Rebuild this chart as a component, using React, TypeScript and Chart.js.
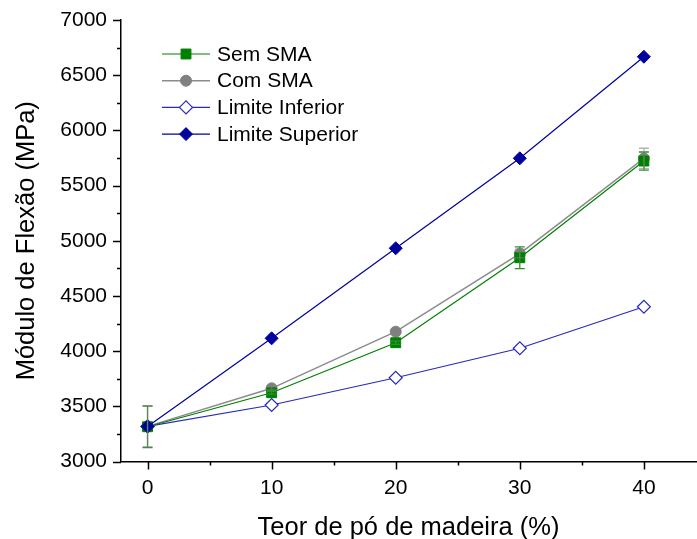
import { useEffect, useRef } from 'react';
import { Chart, registerables } from 'chart.js';
import { drawPoint } from 'chart.js/helpers';

Chart.register(...registerables);

const xValues = [0, 10, 20, 30, 40];
const semSMA = [3315, 3623, 4076, 4846, 5722];
const semSMAErr = [188, 12, 15, 98, 82];
const comSMA = [3318, 3663, 4176, 4884, 5746];
const comSMAErr = [185, 15, 15, 40, 92];
const limiteInferior = [3318, 3512, 3759, 4026, 4402];
const limiteSuperior = [3318, 4116, 4932, 5747, 6667];

const xMajorTicks = [0, 10, 20, 30, 40];
const xMinorTicks = [5, 15, 25, 35];
const yMajorTicks = [3000, 3500, 4000, 4500, 5000, 5500, 6000, 6500, 7000];
const yMinorTicks = [3250, 3750, 4250, 4750, 5250, 5750, 6250, 6750];

const FONT = "'Liberation Sans', Arial, Helvetica, sans-serif";

const toPoints = (ys: number[]) => xValues.map((x, i) => ({ x, y: ys[i] }));

const errorBarPlugin = {
  id: 'errorBars',
  afterDatasetsDraw(chart: any) {
    const { ctx } = chart;
    const xs = chart.scales.x;
    const ys = chart.scales.y;
    chart.data.datasets.forEach((ds: any) => {
      const errs = ds.errors;
      if (!errs) return;
      ctx.save();
      ctx.strokeStyle = ds.errorColor;
      ctx.lineWidth = 1.3;
      ds.data.forEach((p: any, j: number) => {
        const px = xs.getPixelForValue(p.x);
        const top = ys.getPixelForValue(p.y + errs[j]);
        const bot = ys.getPixelForValue(p.y - errs[j]);
        ctx.beginPath();
        ctx.moveTo(px, top);
        ctx.lineTo(px, bot);
        ctx.moveTo(px - 5, top);
        ctx.lineTo(px + 5, top);
        ctx.moveTo(px - 5, bot);
        ctx.lineTo(px + 5, bot);
        ctx.stroke();
      });
      ctx.restore();
    });
  },
};

const tickPlugin = {
  id: 'axisTicks',
  afterDraw(chart: any) {
    const { ctx, chartArea } = chart;
    const xs = chart.scales.x;
    const ys = chart.scales.y;
    ctx.save();
    ctx.strokeStyle = '#000';
    ctx.lineWidth = 1.5;
    ctx.beginPath();
    xMajorTicks.forEach((v) => {
      const px = Math.round(xs.getPixelForValue(v)) + 0.5;
      ctx.moveTo(px, chartArea.bottom);
      ctx.lineTo(px, chartArea.bottom + 8);
    });
    xMinorTicks.forEach((v) => {
      const px = Math.round(xs.getPixelForValue(v)) + 0.5;
      ctx.moveTo(px, chartArea.bottom);
      ctx.lineTo(px, chartArea.bottom + 4);
    });
    yMajorTicks.forEach((v) => {
      const py = Math.round(ys.getPixelForValue(v)) + 0.5;
      ctx.moveTo(chartArea.left, py);
      ctx.lineTo(chartArea.left - 8, py);
    });
    yMinorTicks.forEach((v) => {
      const py = Math.round(ys.getPixelForValue(v)) + 0.5;
      ctx.moveTo(chartArea.left, py);
      ctx.lineTo(chartArea.left - 4, py);
    });
    ctx.stroke();
    ctx.restore();
  },
};

const legendPlugin = {
  id: 'customLegend',
  afterDraw(chart: any) {
    const { ctx } = chart;
    const order = ['Sem SMA', 'Com SMA', 'Limite Inferior', 'Limite Superior'];
    const x0 = 162;
    const x1 = 210;
    const startY = 54;
    const step = 26.7;
    ctx.save();
    order.forEach((label, i) => {
      const ds = chart.data.datasets.find((d: any) => d.label === label);
      const y = startY + i * step;
      ctx.strokeStyle = ds.borderColor;
      ctx.lineWidth = ds.borderWidth;
      ctx.beginPath();
      ctx.moveTo(x0, y);
      ctx.lineTo(x1, y);
      ctx.stroke();
      ctx.fillStyle = ds.pointBackgroundColor;
      ctx.strokeStyle = ds.pointBorderColor;
      ctx.lineWidth = ds.pointBorderWidth;
      drawPoint(
        ctx,
        { pointStyle: ds.pointStyle, rotation: 0, radius: ds.pointRadius, borderWidth: ds.pointBorderWidth },
        (x0 + x1) / 2,
        y
      );
      ctx.fillStyle = '#000';
      ctx.font = `21px ${FONT}`;
      ctx.textBaseline = 'middle';
      ctx.textAlign = 'left';
      ctx.fillText(label, 217, y + 1);
    });
    ctx.restore();
  },
};

export default function App() {
  const ref = useRef<HTMLCanvasElement | null>(null);

  useEffect(() => {
    if (!ref.current) return;
    const chart = new Chart(ref.current, {
      type: 'line',
      data: {
        datasets: [
          {
            label: 'Limite Superior',
            data: toPoints(limiteSuperior),
            borderColor: '#0000a0',
            backgroundColor: '#0000a0',
            borderWidth: 1.2,
            pointStyle: 'rectRot',
            pointRadius: 6.5,
            pointBackgroundColor: '#00009c',
            pointBorderColor: '#00009c',
            pointBorderWidth: 1,
            order: 0,
          },
          {
            label: 'Sem SMA',
            data: toPoints(semSMA),
            borderColor: '#008000',
            backgroundColor: '#008000',
            borderWidth: 1.2,
            pointStyle: 'rect',
            pointRadius: 7,
            pointBackgroundColor: '#008000',
            pointBorderColor: '#008000',
            pointBorderWidth: 1,
            order: 1,
            errors: semSMAErr,
            errorColor: '#2f8f2f',
          } as any,
          {
            label: 'Com SMA',
            data: toPoints(comSMA),
            borderColor: '#8c8c8c',
            backgroundColor: '#808080',
            borderWidth: 1.5,
            pointStyle: 'circle',
            pointRadius: 5.5,
            pointBackgroundColor: '#808080',
            pointBorderColor: '#808080',
            pointBorderWidth: 1,
            order: 2,
            errors: comSMAErr,
            errorColor: 'rgba(128,128,128,0.6)',
          } as any,
          {
            label: 'Limite Inferior',
            data: toPoints(limiteInferior),
            borderColor: '#2a2ab8',
            backgroundColor: '#ffffff',
            borderWidth: 1.2,
            pointStyle: 'rectRot',
            pointRadius: 6.5,
            pointBackgroundColor: '#ffffff',
            pointBorderColor: '#2a2ab8',
            pointBorderWidth: 1.2,
            order: 3,
          },
        ],
      },
      options: {
        animation: false,
        responsive: false,
        layout: { autoPadding: false, padding: { top: 20, right: 1, left: 0, bottom: 0 } },
        elements: { line: { tension: 0 } },
        plugins: {
          legend: { display: false },
          tooltip: { enabled: false },
        },
        scales: {
          x: {
            type: 'linear',
            min: -2.14,
            max: 44.2,
            afterBuildTicks: (s: any) => {
              s.ticks = xMajorTicks.map((v) => ({ value: v }));
            },
            afterFit: (s: any) => {
              s.height = 77.5;
              s.paddingLeft = 0;
              s.paddingRight = 0;
            },
            grid: { display: false, drawTicks: false },
            border: { display: true, color: '#000', width: 1.5 },
            ticks: {
              color: '#000',
              font: { family: FONT, size: 21 },
              padding: 14,
              maxRotation: 0,
              autoSkip: false,
              callback: (v: any) => String(v),
            },
            title: {
              display: true,
              text: 'Teor de pó de madeira (%)',
              color: '#000',
              font: { family: FONT, size: 25.5, lineHeight: 1 },
              padding: { top: 0, bottom: -2 },
            },
          },
          y: {
            min: 3000,
            max: 7000,
            afterBuildTicks: (s: any) => {
              s.ticks = yMajorTicks.map((v) => ({ value: v }));
            },
            afterFit: (s: any) => {
              s.width = 121;
              s.paddingTop = 0;
              s.paddingBottom = 0;
            },
            grid: { display: false, drawTicks: false },
            border: { display: true, color: '#000', width: 1.5 },
            ticks: {
              color: '#000',
              font: { family: FONT, size: 21 },
              padding: 14,
              callback: (v: any) => String(v),
            },
            title: {
              display: true,
              text: 'Módulo de Flexão (MPa)',
              color: '#000',
              font: { family: FONT, size: 25.5, lineHeight: 1 },
              padding: { top: 14, bottom: 0 },
            },
          },
        },
      },
      plugins: [errorBarPlugin, tickPlugin, legendPlugin],
    });
    return () => chart.destroy();
  }, []);

  return (
    <div style={{ position: 'absolute', left: 0, top: 0, width: 697, height: 539, background: '#fff' }}>
      <canvas ref={ref} width={697} height={539} />
    </div>
  );
}
